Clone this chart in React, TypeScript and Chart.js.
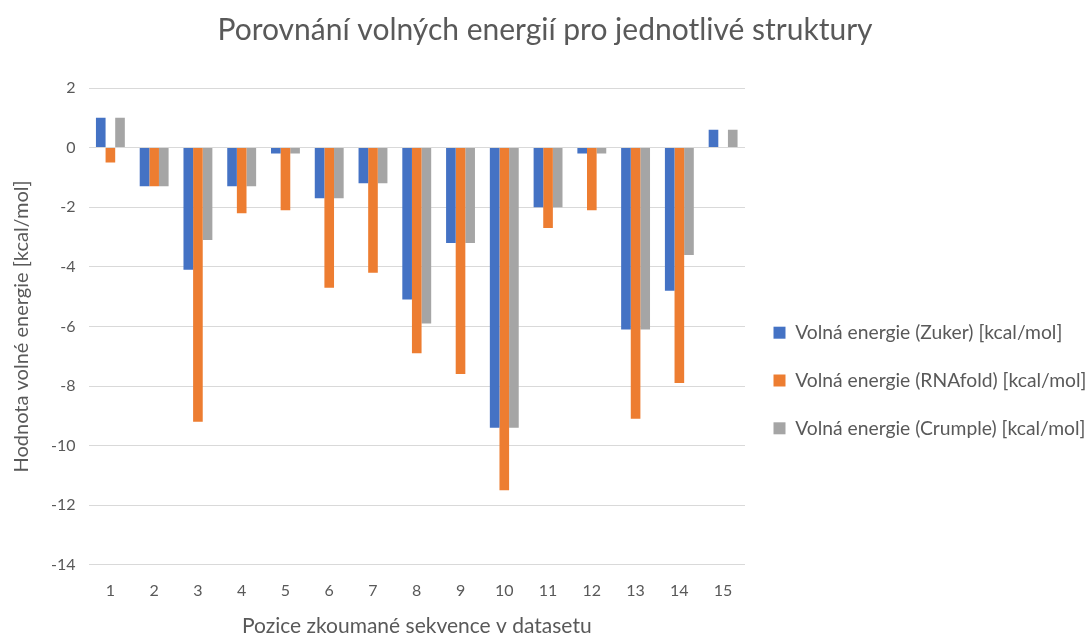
import React, { useEffect, useRef } from "react";
import { Chart, registerables } from "chart.js";

Chart.register(...registerables);

const categories = ["1", "2", "3", "4", "5", "6", "7", "8", "9", "10", "11", "12", "13", "14", "15"];
const zuker = [1.0, -1.3, -4.1, -1.3, -0.2, -1.7, -1.2, -5.1, -3.2, -9.4, -2.0, -0.2, -6.1, -4.8, 0.6];
const rnafold = [-0.5, -1.3, -9.2, -2.2, -2.1, -4.7, -4.2, -6.9, -7.6, -11.5, -2.7, -2.1, -9.1, -7.9, 0];
const crumple = [1.0, -1.3, -3.1, -1.3, -0.2, -1.7, -1.2, -5.9, -3.2, -9.4, -2.0, -0.2, -6.1, -3.6, 0.6];
const seriesNames = [
  "Volná energie (Zuker) [kcal/mol]",
  "Volná energie (RNAfold) [kcal/mol]",
  "Volná energie (Crumple) [kcal/mol]",
];
const titleText = "Porovnání volných energií pro jednotlivé struktury";
const xTitle = "Pozice zkoumané sekvence v datasetu";
const yTitle = "Hodnota volné energie [kcal/mol]";

const FONT = "Lato";
const TXT = "#595959";
const LEGEND_SHIFT = 58;

export default function App() {
  const ref = useRef<HTMLCanvasElement | null>(null);
  useEffect(() => {
    document.body.style.margin = "0";
    const ctx = ref.current!;
    const legendShift = {
      id: "legendShift",
      afterLayout(chart: any) {
        const lg = chart.legend;
        if (lg) {
          lg.top += LEGEND_SHIFT;
          lg.bottom += LEGEND_SHIFT;
        }
      },
    };
    const chart = new Chart(ctx, {
      type: "bar",
      data: {
        labels: categories,
        datasets: [
          { label: seriesNames[0], data: zuker, backgroundColor: "#4472C4" },
          { label: seriesNames[1], data: rnafold, backgroundColor: "#ED7D31" },
          { label: seriesNames[2], data: crumple, backgroundColor: "#A5A5A5" },
        ],
      },
      options: {
        responsive: true,
        maintainAspectRatio: false,
        animation: false,
        layout: { padding: { left: 0, right: 0, top: 8, bottom: 0 } },
        datasets: { bar: { categoryPercentage: 0.66, barPercentage: 1 } },
        plugins: {
          title: {
            display: true,
            text: titleText,
            color: TXT,
            font: { family: FONT, size: 30, weight: "normal" },
            padding: { top: 4, bottom: 40 },
          },
          legend: {
            position: "right",
            maxWidth: 345,
            labels: {
              boxWidth: 12,
              boxHeight: 12,
              color: TXT,
              padding: 28.5,
              font: { family: FONT, size: 19.3 },
            },
          },
          tooltip: { enabled: false },
        },
        scales: {
          x: {
            grid: { display: false, drawTicks: false },
            border: { display: false },
            ticks: { color: TXT, font: { family: FONT, size: 16 }, padding: 16 },
            title: {
              display: true,
              text: xTitle,
              color: TXT,
              font: { family: FONT, size: 21, lineHeight: 1 },
              padding: { top: 0, bottom: 0 },
            },
          },
          y: {
            min: -14,
            max: 2,
            ticks: { stepSize: 2, color: TXT, font: { family: FONT, size: 16 }, padding: 13 },
            grid: { color: "#d9d9d9", lineWidth: 1, drawTicks: false },
            border: { display: false },
            title: {
              display: true,
              text: yTitle,
              color: TXT,
              font: { family: FONT, size: 20 },
              padding: { top: 10, bottom: 4 },
            },
          },
        },
      },
      plugins: [legendShift],
    });
    return () => chart.destroy();
  }, []);
  return (
    <div style={{ width: 1090, height: 637, position: "relative" }}>
      <canvas ref={ref} />
    </div>
  );
}
